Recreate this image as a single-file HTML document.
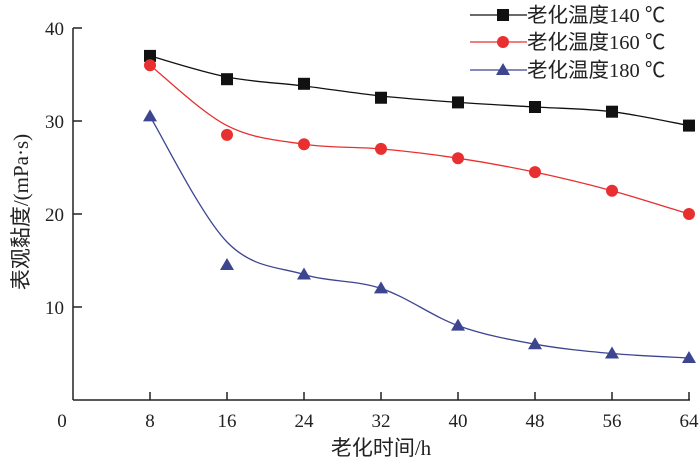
<!DOCTYPE html>
<html><head><meta charset="utf-8"><style>
body{margin:0;background:#fff}
svg text{font-family:"Liberation Serif","Noto Sans CJK SC",serif;fill:#222}
</style></head><body>
<svg id="s" width="700" height="463" xmlns="http://www.w3.org/2000/svg">
<g stroke="#222" stroke-width="1.5" fill="none">
<line x1="73" y1="28" x2="73" y2="400"/>
<line x1="73" y1="400" x2="690" y2="400"/>
<line x1="73" y1="28" x2="82" y2="28"/>
<line x1="73" y1="121" x2="82" y2="121"/>
<line x1="73" y1="214" x2="82" y2="214"/>
<line x1="73" y1="307" x2="82" y2="307"/>
<line x1="150" y1="400" x2="150" y2="392"/>
<line x1="227" y1="400" x2="227" y2="392"/>
<line x1="304" y1="400" x2="304" y2="392"/>
<line x1="381" y1="400" x2="381" y2="392"/>
<line x1="458" y1="400" x2="458" y2="392"/>
<line x1="535" y1="400" x2="535" y2="392"/>
<line x1="612" y1="400" x2="612" y2="392"/>
<line x1="689" y1="400" x2="689" y2="392"/>
</g>
<g font-size="19" text-anchor="end">
<text x="64" y="35">40</text><text x="64" y="128">30</text><text x="64" y="221">20</text><text x="64" y="314">10</text>
</g>
<g font-size="19" text-anchor="middle">
<text x="62" y="427">0</text><text x="150" y="427">8</text><text x="227" y="427">16</text><text x="304" y="427">24</text><text x="381" y="427">32</text><text x="458" y="427">40</text><text x="535" y="427">48</text><text x="612" y="427">56</text><text x="689" y="427">64</text>
<text x="381" y="455" font-size="21">老化时间/h</text>
<text transform="translate(28,212) rotate(-90)" font-size="21">表观黏度/(mPa·s)</text>
</g>
<g id="series"></g>
<g font-size="20.5">
<line x1="470" y1="15" x2="527" y2="15" stroke="#111" stroke-width="1.2"/><rect x="497" y="9" width="12" height="12" fill="#111"/>
<text x="527" y="22">老化温度140 ℃</text>
<line x1="470" y1="42" x2="527" y2="42" stroke="#e83030" stroke-width="1.2"/><circle cx="503" cy="42" r="6" fill="#e83030"/>
<text x="527" y="49">老化温度160 ℃</text>
<line x1="470" y1="70" x2="527" y2="70" stroke="#3c4590" stroke-width="1.2"/><polygon points="503,63 496,75 510,75" fill="#3c4590"/>
<text x="527" y="77">老化温度180 ℃</text>
</g>
</svg>
<script>
var X=[150,227,304,381,458,535,612,689];
function cr(p){var d="M"+X[0]+","+p[0];for(var i=0;i<p.length-1;i++){var x0=X[Math.max(i-1,0)],y0=p[Math.max(i-1,0)],x1=X[i],y1=p[i],x2=X[i+1],y2=p[i+1],x3=X[Math.min(i+2,7)],y3=p[Math.min(i+2,7)];d+=" C"+(x1+(x2-x0)/6)+","+(y1+(y2-y0)/6)+" "+(x2-(x3-x1)/6)+","+(y2-(y3-y1)/6)+" "+x2+","+y2;}return d;}
var S=[
{c:"#111",m:"s",p:[55.9,79.2,83.8,97.75,102.4,107,111.7,125.6],cp:[55.9,77,86,96,102.4,107,111.7,125.6]},
{c:"#e83030",m:"c",p:[65.2,134.9,144.25,148.9,158.2,172.15,190.75,214],cp:[65.2,125.6,144.25,148.9,158.2,172.15,190.75,214]},
{c:"#3c4590",m:"t",p:[116.35,265,274.45,288.4,325.6,344.2,353.5,358],cp:[116.35,242,274.45,288.4,325.6,344.2,353.5,358]}];
var g=document.getElementById("series"),h="";
S.forEach(function(s){h+='<path d="'+cr(s.cp)+'" fill="none" stroke="'+s.c+'" stroke-width="1.3"/>';
s.p.forEach(function(y,i){var x=X[i];
if(s.m=="s")h+='<rect x="'+(x-6)+'" y="'+(y-6)+'" width="12" height="12" fill="'+s.c+'"/>';
else if(s.m=="c")h+='<circle cx="'+x+'" cy="'+y+'" r="6" fill="'+s.c+'"/>';
else h+='<polygon points="'+x+','+(y-7)+' '+(x-7)+','+(y+5)+' '+(x+7)+','+(y+5)+'" fill="'+s.c+'"/>';});});
g.innerHTML=h;
</script>
</body></html>
